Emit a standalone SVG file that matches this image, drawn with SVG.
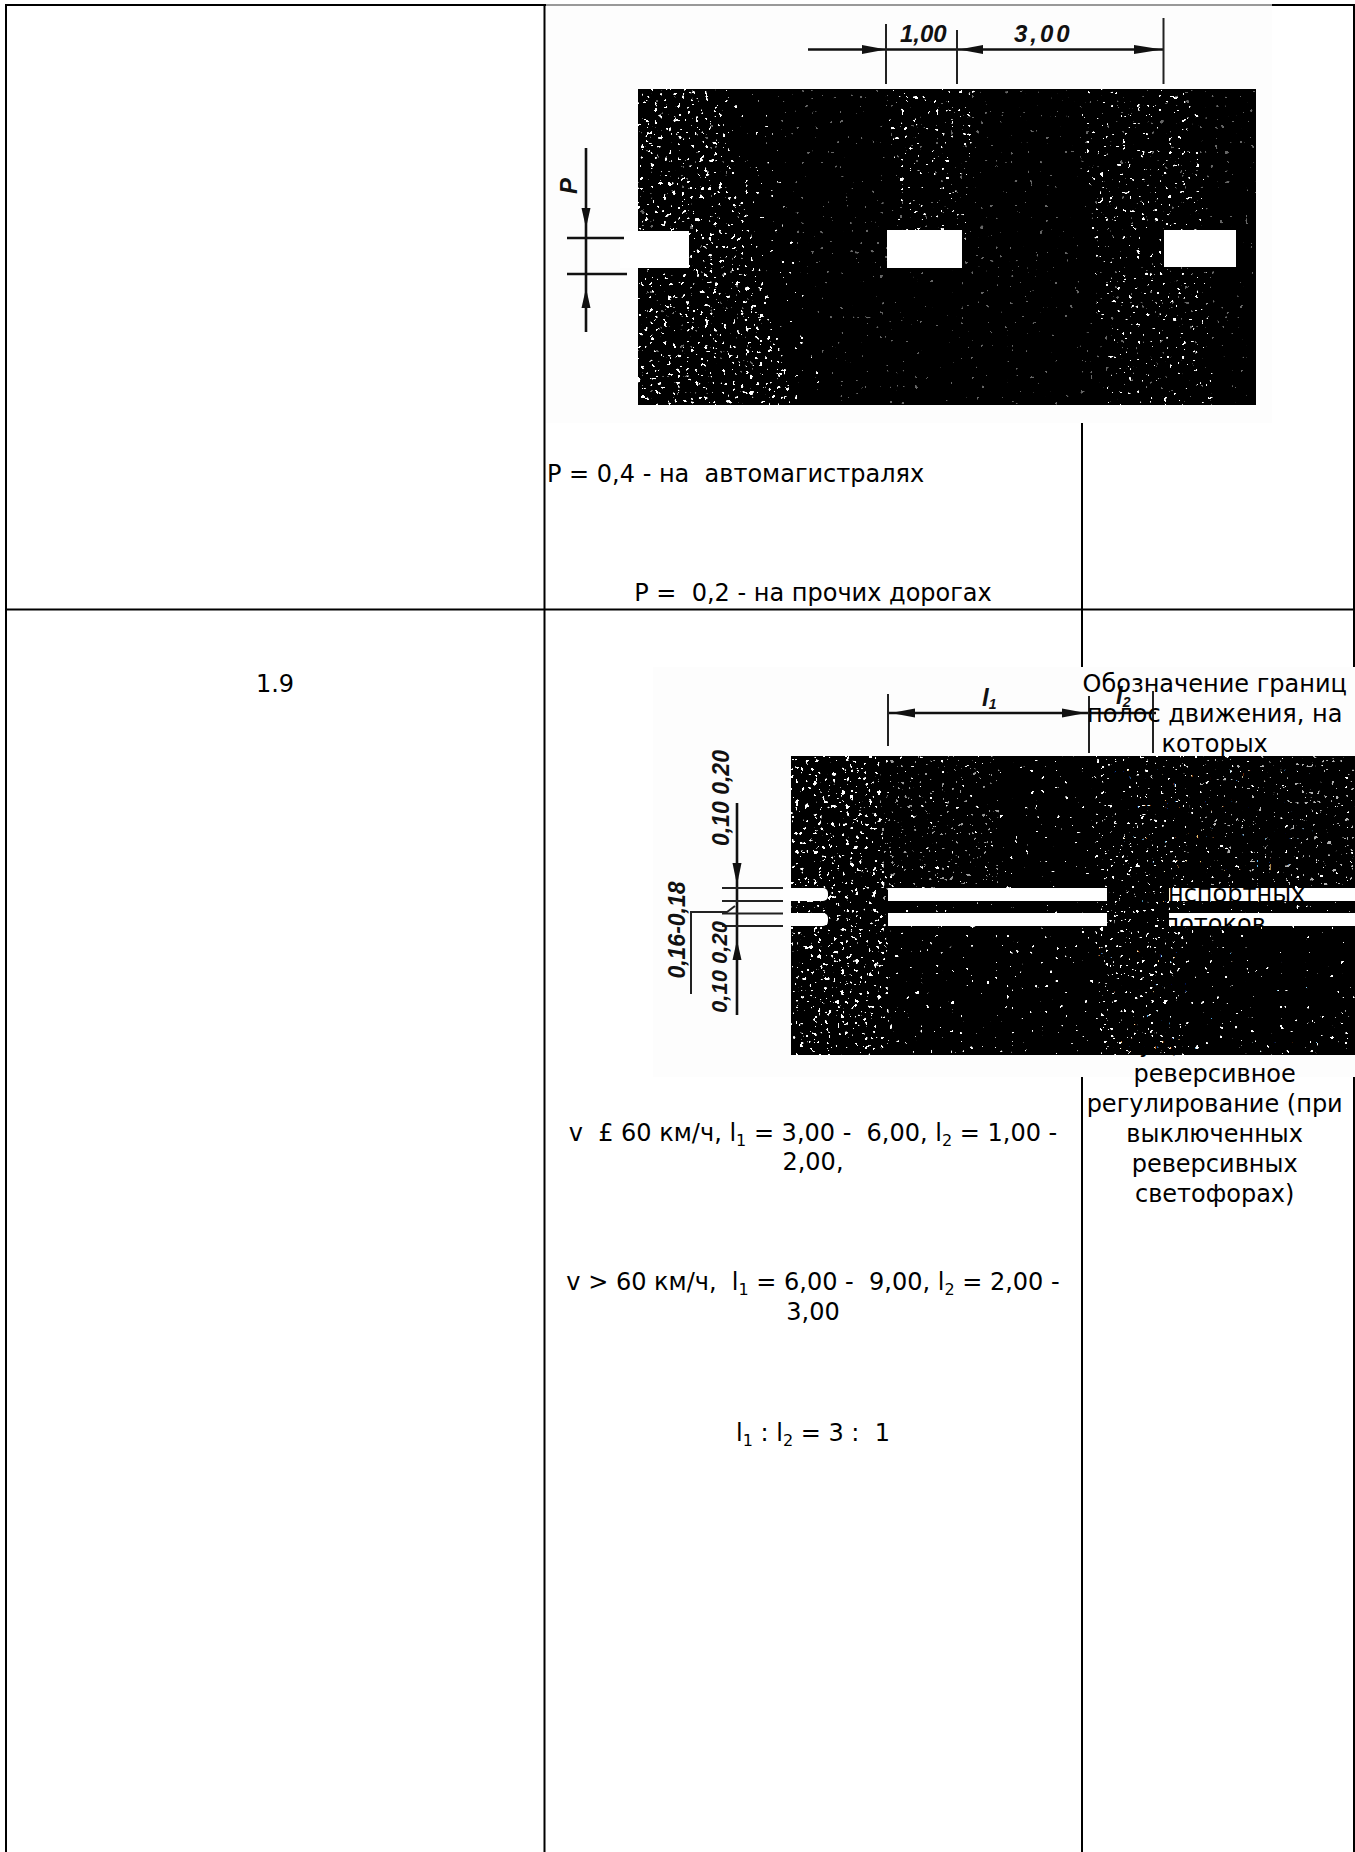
<svg xmlns="http://www.w3.org/2000/svg" width="1355" height="1852" viewBox="0 0 1355 1852">
<style>
.t{font-family:"DejaVu Sans","Noto Sans",sans-serif;font-size:24px;fill:#000;white-space:pre}
.c{text-anchor:middle}
.lbl{font-family:"Liberation Sans",Arial,sans-serif;font-style:italic;font-weight:bold;fill:#111}
.grid{stroke:#000;stroke-width:2;fill:none}
.dim{stroke:#111;stroke-width:2.6;fill:none}
.tick{stroke:#222;stroke-width:2;fill:none}
</style>
<defs>
<filter id="spD" x="0" y="0" width="1" height="1" color-interpolation-filters="sRGB">
<feTurbulence type="fractalNoise" baseFrequency="0.22" numOctaves="2" seed="3" result="n"/>
<feColorMatrix in="n" type="matrix" values="0 0 0 0 1 0 0 0 0 1 0 0 0 0 1 40 0 0 0 -27.2" result="d"/>
<feComposite in="d" in2="SourceGraphic" operator="in"/>
</filter>
<filter id="spM" x="0" y="0" width="1" height="1" color-interpolation-filters="sRGB">
<feTurbulence type="fractalNoise" baseFrequency="0.22" numOctaves="2" seed="11" result="n"/>
<feColorMatrix in="n" type="matrix" values="0 0 0 0 1 0 0 0 0 1 0 0 0 0 1 40 0 0 0 -28.8" result="d"/>
<feComposite in="d" in2="SourceGraphic" operator="in"/>
</filter>
<filter id="spL" x="0" y="0" width="1" height="1" color-interpolation-filters="sRGB">
<feTurbulence type="fractalNoise" baseFrequency="0.2" numOctaves="2" seed="23" result="n"/>
<feColorMatrix in="n" type="matrix" values="0 0 0 0 1 0 0 0 0 1 0 0 0 0 1 40 0 0 0 -30.4" result="d"/>
<feComposite in="d" in2="SourceGraphic" operator="in"/>
</filter>
</defs>

<g id="grid">
<line class="grid" x1="6" y1="5" x2="1355" y2="5"/>
<line class="grid" x1="6" y1="4" x2="6" y2="1852"/>
<line class="grid" x1="544.5" y1="4" x2="544.5" y2="1852"/>
<line class="grid" x1="1082" y1="4" x2="1082" y2="1852"/>
<line class="grid" x1="1354" y1="4" x2="1354" y2="1852"/>
<line class="grid" x1="6" y1="609.5" x2="1355" y2="609.5"/>
</g>

<g id="figure-top">
<rect x="546" y="4" width="726" height="419" fill="#fdfdfd"/>
<line x1="546" y1="5" x2="1272" y2="5" stroke="#777" stroke-width="1.5"/>
<rect x="638" y="89" width="618" height="316" fill="#000"/>
<polygon points="638,89 715,89 755,250 795,405 638,405" fill="#000" filter="url(#spD)"/>
<polygon points="715,89 770,89 795,250 825,405 760,405" fill="#000" filter="url(#spL)"/>
<polygon points="885,89 975,89 965,250 900,250" fill="#000" filter="url(#spM)"/>
<polygon points="1080,89 1200,89 1215,405 1105,405" fill="#000" filter="url(#spM)"/>
<rect x="638" y="89" width="618" height="316" fill="#000" filter="url(#spL)" opacity="0.4"/>
<rect x="620" y="231" width="69" height="37" fill="#fff"/>
<rect x="887" y="230" width="75" height="38" fill="#fff"/>
<rect x="1164" y="230" width="72" height="37" fill="#fff"/>
<line class="dim" x1="808" y1="49.5" x2="1163" y2="49.5"/>
<polygon points="886,49.5 862,45 862,54" fill="#111"/>
<polygon points="959,49.5 983,45 983,54" fill="#111"/>
<polygon points="1162,49.5 1134,45 1134,54" fill="#111"/>
<line class="tick" x1="886" y1="24" x2="886" y2="84"/>
<line class="tick" x1="957" y1="30" x2="957" y2="84"/>
<line class="tick" x1="1163.5" y1="18" x2="1163.5" y2="84"/>
<text class="lbl" x="900" y="42" font-size="24">1,00</text>
<text class="lbl" x="1014" y="42" font-size="24" letter-spacing="3">3,00</text>
<line class="dim" x1="586" y1="148" x2="586" y2="332"/>
<polygon points="586,228 581.5,208 590.5,208" fill="#111"/>
<polygon points="586,288 581.5,308 590.5,308" fill="#111"/>
<line class="dim" x1="567" y1="238" x2="624" y2="238"/>
<line class="dim" x1="567" y1="274" x2="627" y2="274"/>
<text class="lbl" x="577" y="186" font-size="24" text-anchor="middle" transform="rotate(-90 577 186)">P</text>
</g>

<g id="cell-top-texts">
<text class="t" x="547" y="482">P = 0,4 - на  автомагистралях</text>
<text class="t c" x="813" y="601">P =  0,2 - на прочих дорогах</text>
</g>

<g id="cell-number">
<text class="t c" x="275" y="692">1.9</text>
</g>

<g id="figure-bottom">
<rect x="653" y="667" width="702" height="410" fill="#fdfdfd"/>
<rect x="791" y="756" width="564" height="299" fill="#000"/>
<rect x="791" y="756" width="564" height="299" fill="#000" filter="url(#spL)"/>
<polygon points="791,756 880,756 890,1055 791,1055" fill="#000" filter="url(#spD)"/>
<polygon points="1095,756 1190,756 1185,1055 1100,1055" fill="#000" filter="url(#spM)"/>
<polygon points="880,756 1000,756 1000,900 880,900" fill="#000" filter="url(#spM)" opacity="0.6"/>
<rect x="1200" y="756" width="155" height="130" fill="#000" filter="url(#spM)" opacity="0.7"/>
<rect x="780" y="888" width="48" height="13" rx="5" fill="#fff"/>
<rect x="780" y="913" width="48" height="13" rx="5" fill="#fff"/>
<rect x="888" y="888" width="219" height="13" fill="#fff"/>
<rect x="888" y="913" width="219" height="13" fill="#fff"/>
<rect x="1169" y="888" width="186" height="13" fill="#fff"/>
<rect x="1169" y="913" width="186" height="13" fill="#fff"/>
<line class="dim" x1="888" y1="713" x2="1156" y2="713"/>
<polygon points="891,713 915,708.5 915,717.5" fill="#111"/>
<polygon points="1086,713 1062,708.5 1062,717.5" fill="#111"/>
<line class="tick" x1="888" y1="694" x2="888" y2="746"/>
<line class="tick" x1="1089" y1="696" x2="1089" y2="753"/>
<line class="tick" x1="1153" y1="691" x2="1153" y2="753"/>
<text class="lbl" x="982" y="706" font-size="24">l<tspan font-size="14" dy="3">1</tspan></text>
<text class="lbl" x="1116" y="704" font-size="24">l<tspan font-size="14" dy="3">2</tspan></text>
<line class="dim" x1="737" y1="803" x2="737" y2="1015"/>
<polygon points="737,885 732.5,863 741.5,863" fill="#111"/>
<polygon points="737,940 732.5,960 741.5,960" fill="#111"/>
<line class="tick" x1="722" y1="888" x2="783" y2="888"/>
<line class="tick" x1="722" y1="901" x2="783" y2="901"/>
<line class="tick" x1="722" y1="913.5" x2="783" y2="913.5"/>
<line class="tick" x1="722" y1="926" x2="783" y2="926"/>
<polyline class="tick" points="691,994 691,912 727,912 735,906"/>
<text class="lbl" x="729" y="798" font-size="23" text-anchor="middle" transform="rotate(-90 729 798)">0,10  0,20</text>
<text class="lbl" x="727" y="967" font-size="22" text-anchor="middle" transform="rotate(-90 727 967)">0,10 0,20</text>
<text class="lbl" x="685" y="930" font-size="23" text-anchor="middle" transform="rotate(-90 685 930)">0,16-0,18</text>
</g>

<g id="cell-bottom-texts">
<text class="t c" x="813" y="1141">v  £ 60 км/ч, l<tspan font-size="16" dy="5">1</tspan><tspan dy="-5"> = 3,00 -  6,00, l</tspan><tspan font-size="16" dy="5">2</tspan><tspan dy="-5"> = 1,00 -</tspan></text>
<text class="t c" x="813" y="1170">2,00,</text>
<text class="t c" x="813" y="1290">v &gt; 60 км/ч,  l<tspan font-size="16" dy="5">1</tspan><tspan dy="-5"> = 6,00 -  9,00, l</tspan><tspan font-size="16" dy="5">2</tspan><tspan dy="-5"> = 2,00 -</tspan></text>
<text class="t c" x="813" y="1320">3,00</text>
<text class="t c" x="813" y="1441">l<tspan font-size="16" dy="5">1</tspan><tspan dy="-5"> : l</tspan><tspan font-size="16" dy="5">2</tspan><tspan dy="-5"> = 3 :  1</tspan></text>
</g>

<g id="cell-description">
<text class="t c">
<tspan x="1218.5" y="692">Обозначение границ</tspan>
<tspan x="1218.5" y="722">полос движения, на</tspan>
<tspan x="1218.5" y="752">которых</tspan>
<tspan x="1218.5" y="782">осуществляется</tspan>
<tspan x="1218.5" y="812">реверсивное</tspan>
<tspan x="1218.5" y="842">регулирование;</tspan>
<tspan x="1218.5" y="872">разделение</tspan>
<tspan x="1218.5" y="902">транспортных</tspan>
<tspan x="1218.5" y="932">потоков</tspan>
<tspan x="1218.5" y="962">противоположных</tspan>
<tspan x="1218.5" y="992">направлений на</tspan>
<tspan x="1218.5" y="1022">дорогах, где</tspan>
<tspan x="1218.5" y="1052">осуществляется</tspan>
<tspan x="1218.5" y="1082">реверсивное</tspan>
<tspan x="1218.5" y="1112">регулирование (при</tspan>
<tspan x="1218.5" y="1142">выключенных</tspan>
<tspan x="1218.5" y="1172">реверсивных</tspan>
<tspan x="1218.5" y="1202">светофорах)</tspan>
</text>
</g>
</svg>
